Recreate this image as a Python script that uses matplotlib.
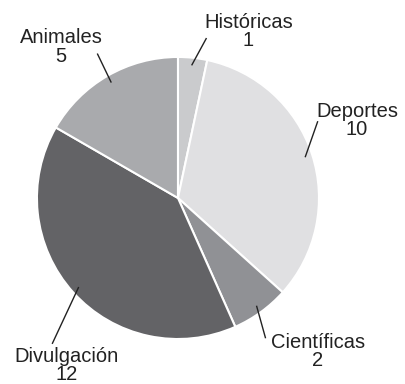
import numpy as np
import matplotlib
matplotlib.use("Agg")
import matplotlib.pyplot as plt

# data
categorias = ["Históricas", "Deportes", "Científicas", "Divulgación", "Animales"]
valores = [1, 10, 2, 12, 5]
colores = ["#cacbcd", "#e0e0e2", "#909195", "#636366", "#a9aaad"]

# label layout (text block centre, end of leader line), in pie-radius units
pos_texto = [(0.50, 1.18), (1.27, 0.55), (0.99, -1.09), (-0.79, -1.19), (-0.83, 1.07)]
fin_linea = [(0.20, 1.13), (0.99, 0.54), (0.62, -0.99), (-0.89, -1.03), (-0.57, 1.02)]

plt.rcParams["font.family"] = ["Liberation Sans", "DejaVu Sans"]

fig = plt.figure(figsize=(4.05, 3.84), dpi=100)
ax = fig.add_axes([0, 0, 1, 1])

wedges, _ = ax.pie(valores, colors=colores, startangle=90, counterclock=False,
                   wedgeprops=dict(edgecolor="white", linewidth=1.5))

for w, cat, val, tp, fl in zip(wedges, categorias, valores, pos_texto, fin_linea):
    ang = np.deg2rad((w.theta1 + w.theta2) / 2)
    x0, y0 = 0.95 * np.cos(ang), 0.95 * np.sin(ang)
    ax.plot([x0, fl[0]], [y0, fl[1]], color="#222222", lw=1)
    ax.text(tp[0], tp[1], f"{cat}\n{val}", ha="center", va="center",
            fontsize=14.5, linespacing=0.95, color="#222222")

ax.set_xlim(-1.262, 1.610)
ax.set_ylim(-1.319, 1.404)
ax.set_aspect("auto")
ax.axis("off")

fig.savefig("out.png", dpi=100)
